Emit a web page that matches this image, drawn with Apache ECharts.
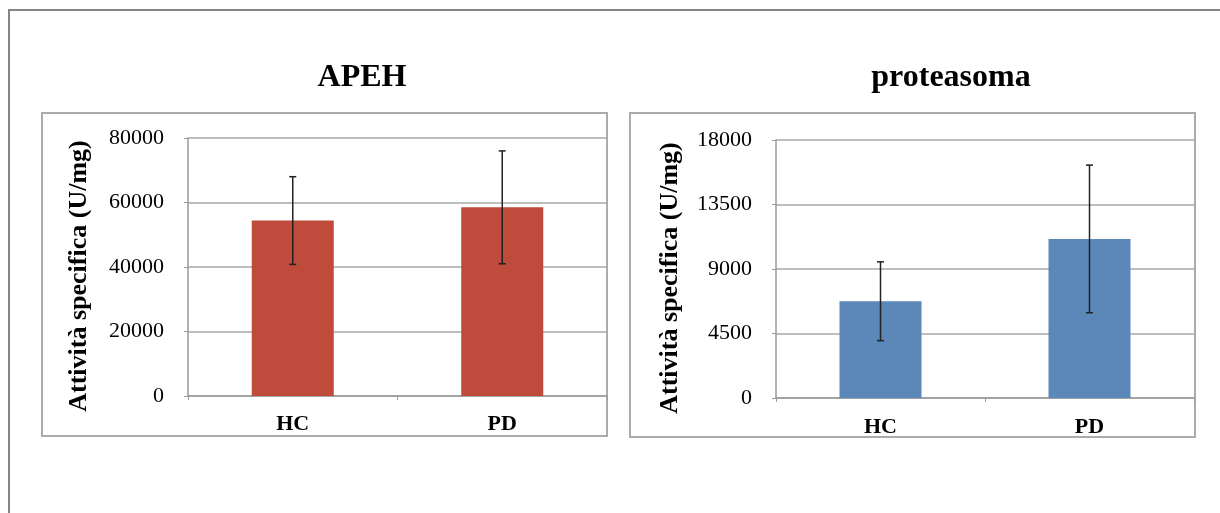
<!DOCTYPE html>
<html>
<head>
<meta charset="utf-8">
<title>APEH e proteasoma</title>
<script src="https://cdn.jsdelivr.net/npm/echarts@6/dist/echarts.min.js"></script>
<style>
  html, body { margin: 0; padding: 0; background: #ffffff; }
  #chart { width: 1220px; height: 513px; }
</style>
</head>
<body>
<div id="chart"></div>
<script>
// Groups on the category axis
const categories = ['HC', 'PD'];

// APEH specific activity (U/mg): mean and standard deviation
const apehMean = [54400, 58500];
const apehErr = [13600, 17500];

// Proteasome specific activity (U/mg): mean and standard deviation
const proteasomaMean = [6750, 11100];
const proteasomaErr = [2750, 5150];

// Y tick steps and ranges
const apehMax = 80000, apehStep = 20000;
const protMax = 18000, protStep = 4500;

const serif = '"Liberation Serif", "Times New Roman", serif';
const gridLine = '#a9a9a9';
const axisLine = '#9a9a9a';

// Builds error bar marks (vertical whisker with caps) for one grid
function errorSeries(axisIdx, means, errs) {
  return {
    type: 'custom',
    xAxisIndex: axisIdx,
    yAxisIndex: axisIdx,
    z: 5,
    data: means.map((m, i) => [i, m - errs[i], m + errs[i]]),
    renderItem: function (params, api) {
      const i = api.value(0);
      const lo = api.coord([i, api.value(1)]);
      const hi = api.coord([i, api.value(2)]);
      const cap = 3.5;
      const style = { stroke: '#222222', lineWidth: 1.5 };
      return {
        type: 'group',
        children: [
          { type: 'line', shape: { x1: hi[0], y1: hi[1], x2: lo[0], y2: lo[1] }, style: style },
          { type: 'line', shape: { x1: hi[0] - cap, y1: hi[1], x2: hi[0] + cap, y2: hi[1] }, style: style },
          { type: 'line', shape: { x1: lo[0] - cap, y1: lo[1], x2: lo[0] + cap, y2: lo[1] }, style: style }
        ]
      };
    }
  };
}

function xAxisDef(idx, margin) {
  return {
    type: 'category',
    gridIndex: idx,
    data: categories,
    axisLine: { show: true, lineStyle: { color: axisLine, width: 1.5 } },
    axisTick: { show: true, length: 4, lineStyle: { color: axisLine } },
    axisLabel: { color: '#000', fontFamily: serif, fontWeight: 'bold', fontSize: 22, margin: margin },
    splitLine: { show: false }
  };
}

function yAxisDef(idx, max, step, gap) {
  return {
    type: 'value',
    gridIndex: idx,
    min: 0,
    max: max,
    interval: step,
    name: 'Attività specifica (U/mg)',
    nameLocation: 'middle',
    nameGap: gap,
    nameTextStyle: { color: '#000', fontFamily: serif, fontWeight: 'bold', fontSize: 26, padding: [0, 18, 0, 0] },
    axisLine: { show: true, lineStyle: { color: axisLine, width: 1.5 } },
    axisTick: { show: true, length: 4, lineStyle: { color: axisLine } },
    axisLabel: { color: '#000', fontFamily: serif, fontSize: 22, margin: 24,
      formatter: function (v) { return String(v); } },
    splitLine: { show: true, lineStyle: { color: gridLine, width: 1.5 } }
  };
}

const chart = echarts.init(document.getElementById('chart'), null, { renderer: 'canvas' });

chart.setOption({
  backgroundColor: '#ffffff',
  animation: false,
  title: [
    { text: 'APEH', left: 357, top: 57, textAlign: 'center',
      textStyle: { fontFamily: serif, fontWeight: 'bold', fontSize: 32, color: '#000' } },
    { text: 'proteasoma', left: 946, top: 57, textAlign: 'center',
      textStyle: { fontFamily: serif, fontWeight: 'bold', fontSize: 32, color: '#000' } }
  ],
  graphic: [
    // page frame
    { type: 'polyline', z: 0, silent: true,
      shape: { points: [[9, 513], [9, 10], [1220, 10]] },
      style: { stroke: '#858585', lineWidth: 2, fill: null } },
    // panel boxes
    { type: 'rect', z: 0, silent: true,
      shape: { x: 42, y: 113, width: 565, height: 323 },
      style: { stroke: '#ababab', lineWidth: 2, fill: null } },
    { type: 'rect', z: 0, silent: true,
      shape: { x: 630, y: 113, width: 565, height: 324 },
      style: { stroke: '#ababab', lineWidth: 2, fill: null } }
  ],
  grid: [
    { left: 188, right: 613, top: 138, bottom: 117 },
    { left: 776, right: 26, top: 140, bottom: 115 }
  ],
  xAxis: [xAxisDef(0, 17), xAxisDef(1, 18)],
  yAxis: [yAxisDef(0, apehMax, apehStep, 96), yAxisDef(1, protMax, protStep, 93)],
  series: [
    { type: 'bar', xAxisIndex: 0, yAxisIndex: 0, data: apehMean, barWidth: 82,
      itemStyle: { color: '#be4b3b' } },
    errorSeries(0, apehMean, apehErr),
    { type: 'bar', xAxisIndex: 1, yAxisIndex: 1, data: proteasomaMean, barWidth: 82,
      itemStyle: { color: '#5b87b9' } },
    errorSeries(1, proteasomaMean, proteasomaErr)
  ]
});
</script>
</body>
</html>
